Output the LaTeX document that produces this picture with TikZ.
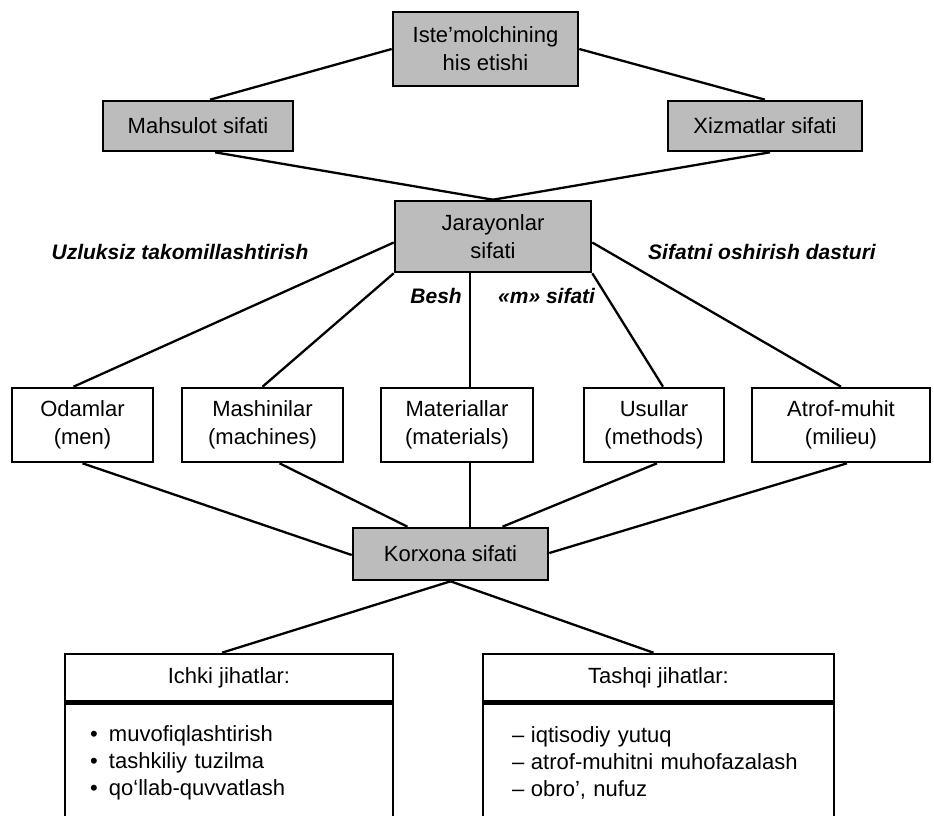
\documentclass[tikz,border=0pt]{standalone}
\usepackage{fontspec}
\setmainfont{Liberation Sans}
\usetikzlibrary{calc}
\definecolor{boxgray}{RGB}{188,188,188}
\begin{document}
\begin{tikzpicture}[x=1pt,y=1pt,
  every node/.style={font=\fontsize{22}{28}\selectfont},
  box/.style={draw=black,line width=2.6pt,rectangle,align=center,inner sep=0pt},
  graybox/.style={box,fill=boxgray},
  conn/.style={line width=2.3pt,draw=black},
  lbl/.style={font=\fontsize{21}{26}\selectfont\bfseries\itshape,inner sep=0pt}]
\useasboundingbox (0,0) rectangle (934,-815);
\clip (0,0) rectangle (934,-815);

% top level
\node[graybox,minimum width=185pt,minimum height=74pt] (top) at (485.5,-49) {Iste'molchining\\his etishi};
\node[graybox,minimum width=190pt,minimum height=50pt] (mah) at (198,-126) {Mahsulot sifati};
\node[graybox,minimum width=194pt,minimum height=50pt] (xiz) at (765,-126) {Xizmatlar sifati};
\node[graybox,minimum width=196pt,minimum height=71pt] (jar) at (493,-236.5) {Jarayonlar\\sifati};

% five m
\node[box,minimum width=141pt,minimum height=74pt] (oda) at (82.5,-425) {Odamlar\\(men)};
\node[box,minimum width=161pt,minimum height=74pt] (mas) at (262.5,-425) {Mashinilar\\(machines)};
\node[box,minimum width=152pt,minimum height=74pt] (mat) at (457,-425) {Materiallar\\(materials)};
\node[box,minimum width=140pt,minimum height=74pt] (usu) at (654,-425) {Usullar\\(methods)};
\node[box,minimum width=178pt,minimum height=74pt] (atr) at (841,-425) {Atrof-muhit\\(milieu)};

\node[graybox,minimum width=195pt,minimum height=52pt] (kor) at (450.5,-554) {Korxona sifati};

% bottom boxes
\node[box,minimum width=328pt,minimum height=47pt] (ich) at (229,-677.5) {Ichki jihatlar:};
\node[box,anchor=north,text width=278pt,inner xsep=25pt,minimum height=118pt,align=left,
      font=\fontsize{22}{27}\selectfont] (ichb) at (ich.south)
  {\makebox[19pt][l]{•}muvofiqlashtirish\\\makebox[19pt][l]{•}tashkiliy tuzilma\\\makebox[19pt][l]{•}qo‘llab-quvvatlash};
\node[box,minimum width=351pt,minimum height=47pt] (tas) at (658.5,-677.5) {Tashqi jihatlar:};
\node[box,anchor=north,text width=293pt,inner xsep=29pt,minimum height=118pt,align=left,
      font=\fontsize{22}{27}\selectfont] (tasb) at (tas.south)
  {\makebox[19pt][l]{–}iqtisodiy yutuq\\\makebox[19pt][l]{–}atrof-muhitni muhofazalash\\\makebox[19pt][l]{–}obro', nufuz};

% labels
\node[lbl] (uzl) at (180,-252) {Uzluksiz takomillashtirish};
\node[lbl] (sif) at (762,-252) {Sifatni oshirish dasturi};
\node[lbl,anchor=east] (besh) at (462,-296) {Besh};
\node[lbl,anchor=west] (msif) at (498,-296) {«m» sifati};

% connectors top
\draw[conn] (top.west) -- ([xshift=12pt]mah.north);
\draw[conn] (top.east) -- (xiz.north);
\draw[conn] ([xshift=17pt]mah.south) -- (jar.north);
\draw[conn] ([xshift=5pt]xiz.south) -- (jar.north);

% jarayonlar to five m
\draw[conn] ([yshift=-6pt]jar.west) -- ([xshift=-9pt]oda.north);
\draw[conn] (jar.south west) -- (mas.north);
\draw[conn] ([xshift=-23pt]jar.south) -- ([xshift=13pt]mat.north);
\draw[conn] (jar.south east) -- ([xshift=9pt]usu.north);
\draw[conn] ([yshift=-6pt]jar.east) -- (atr.north);

% five m to korxona
\draw[conn] (oda.south) -- ([yshift=-1pt]kor.west);
\draw[conn] ([xshift=17pt]mas.south) -- ([xshift=-43pt]kor.north);
\draw[conn] ([xshift=13pt]mat.south) -- ([xshift=19.5pt]kor.north);
\draw[conn] ([xshift=3pt]usu.south) -- ([xshift=52pt]kor.north);
\draw[conn] ([xshift=6pt]atr.south) -- ([yshift=1pt]kor.east);

% korxona to bottom
\draw[conn] (kor.south) -- ([xshift=-7pt]ich.north);
\draw[conn] (kor.south) -- ([xshift=-5pt]tas.north);
\end{tikzpicture}
\end{document}
